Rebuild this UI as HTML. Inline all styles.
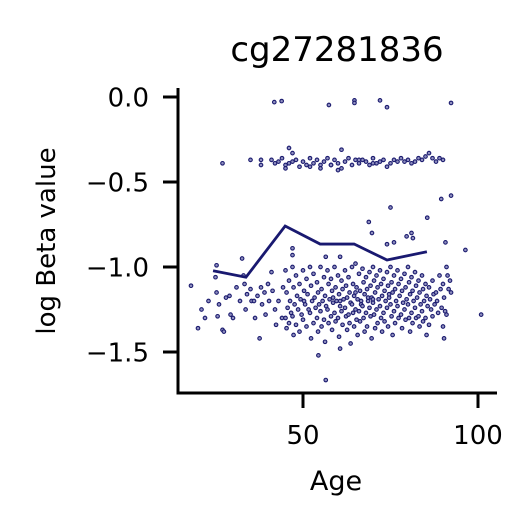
<!DOCTYPE html>
<html><head><meta charset="utf-8"><style>
html,body{margin:0;padding:0;background:#fff;}
svg{display:block;font-family:"DejaVu Sans","Liberation Sans",sans-serif;}
</style></head><body>
<svg id="chart" width="531" height="531" viewBox="0 0 531 531">
<text x="337" y="61" font-size="34" text-anchor="middle">cg27281836</text>
<g id="points"></g>
<g id="line"></g>
<g id="axes"></g>
<text x="336" y="490" font-size="27" text-anchor="middle">Age</text>
<text x="0" y="0" font-size="26" text-anchor="middle" transform="translate(55,241) rotate(-90)">log Beta value</text>
</svg>
<script>
const xTicks=[50,100];
const yTicks=[0.0,-0.5,-1.0,-1.5];
const yTickLabels=["0.0","\u22120.5","\u22121.0","\u22121.5"];
const lineAges=[24.3,33.7,44.9,54.9,64.6,74,85.4];
const lineValues=[-1.022,-1.06,-0.759,-0.865,-0.865,-0.959,-0.91];
const outlierAges=[41.8,43.9,57.4,64.7,64.7,72,74,92.3,89.5,92.3,75,68.8,85.5,69.7,81,79.6,81.4,76,74,90.7,96.4,100.9,56.5,54.4,60.6,18,20,27.4,37.6,47,47,32.6,25.3,56.5,60.6];
const outlierValues=[-0.03,-0.024,-0.047,-0.02,-0.035,-0.02,-0.06,-0.035,-0.6,-0.58,-0.65,-0.735,-0.71,-0.8,-0.8,-0.82,-0.83,-0.855,-0.866,-0.855,-0.9,-1.28,-1.665,-1.52,-1.48,-1.11,-1.36,-1.38,-1.42,-0.89,-0.93,-0.95,-0.99,-0.94,-0.94];
const bandAges=[27,35,38,38,41,42,43,44,45,45,46,47,47,48,49,50,51,52,53,54,55,55,56,57,58,59,60,60,61,62,63,64,65,66,67,68,69,70,71,72,73,74,75,76,77,78,80,81,82,83,84,85,86,87,88,89,90,46,52,58,61,66,70,79];
const bandValues=[-0.39,-0.37,-0.37,-0.4,-0.37,-0.39,-0.38,-0.36,-0.4,-0.42,-0.3,-0.38,-0.33,-0.37,-0.41,-0.38,-0.4,-0.36,-0.39,-0.37,-0.4,-0.42,-0.38,-0.36,-0.4,-0.37,-0.39,-0.43,-0.31,-0.38,-0.36,-0.4,-0.37,-0.39,-0.37,-0.38,-0.4,-0.36,-0.39,-0.38,-0.37,-0.41,-0.39,-0.37,-0.38,-0.36,-0.37,-0.39,-0.38,-0.36,-0.37,-0.35,-0.33,-0.36,-0.38,-0.36,-0.37,-0.39,-0.41,-0.4,-0.42,-0.37,-0.39,-0.38];
const clusterAges=[21,22,23,25,26,27,28,29,30,31,32,33,34,35,36,37,38,39,40,41,42,43,44,45,46,47,48,49,50,51,52,53,54,55,56,57,58,59,60,61,62,63,64,65,66,67,68,69,70,71,72,73,74,75,76,77,78,79,80,81,82,83,84,85,86,87,88,89,90,91,92];
const clusterValues=[[-1.25],[-1.3],[-1.2],[-1.06,-1.15,-1.29],[-1.22],[-1.37],[-1.18],[-1.17,-1.28],[-1.3],[-1.12],[-1.2],[-1.05,-1.1,-1.25],[-1.16],[-1.13,-1.2],[-1.2,-1.3],[-1.17],[-1.12,-1.22],[-1.15,-1.28],[-1.1,-1.2],[-1.03,-1.14],[-1.25,-1.34],[-1.2],[-1.3,-1.12],
[-1.02,-1.15,-1.24,-1.3,-1.36],[-1.08,-1.2,-1.27,-1.33],[-1.0,-1.12,-1.22,-1.29,-1.4],[-1.05,-1.17,-1.25,-1.34],[-1.1,-1.19,-1.28,-1.38],[-1.02,-1.14,-1.22,-1.31,-1.2],[-1.07,-1.16,-1.25,-1.35],[-1.0,-1.11,-1.2,-1.27,-1.42],[-1.04,-1.18,-1.24,-1.33],[-1.09,-1.15,-1.22,-1.3,-1.38],[-1.0,-1.13,-1.2,-1.26,-1.35],[-1.06,-1.17,-1.23,-1.31,-1.44],[-1.02,-1.1,-1.19,-1.25,-1.33],[-1.07,-1.14,-1.21,-1.29,-1.37,-1.18],[-1.0,-1.12,-1.2,-1.27,-1.32],[-1.05,-1.16,-1.23,-1.3,-1.41,-1.2],[-1.08,-1.13,-1.19,-1.26,-1.34],[-1.02,-1.11,-1.18,-1.24,-1.29,-1.37],[-1.06,-1.15,-1.21,-1.28,-1.33,-1.45],[-1.0,-1.1,-1.17,-1.22,-1.27,-1.35],[-0.98,-1.12,-1.19,-1.25,-1.31,-1.4,-1.15],[-1.04,-1.14,-1.2,-1.26,-1.32,-1.22],[-1.01,-1.09,-1.16,-1.23,-1.3,-1.38],[-1.06,-1.13,-1.2,-1.27,-1.35,-1.18],[-1.03,-1.11,-1.18,-1.24,-1.29,-1.42],[-1.0,-1.08,-1.15,-1.21,-1.28,-1.36,-1.19],[-1.05,-1.12,-1.19,-1.25,-1.33],[-1.02,-1.1,-1.17,-1.23,-1.3,-1.38],[-1.07,-1.14,-1.2,-1.27,-1.32],[-1.03,-1.11,-1.18,-1.24,-1.35,-1.16],[-1.0,-1.09,-1.15,-1.22,-1.29,-1.4],[-1.05,-1.13,-1.2,-1.26,-1.33],[-1.02,-1.1,-1.17,-1.23,-1.3],[-1.07,-1.14,-1.21,-1.28,-1.36],[-1.04,-1.12,-1.19,-1.25,-1.31],[-1.0,-1.09,-1.16,-1.22,-1.3,-1.38],[-1.06,-1.14,-1.2,-1.27,-1.33],[-1.03,-1.11,-1.18,-1.24,-1.3],[-1.08,-1.15,-1.22,-1.29,-1.35],[-1.05,-1.13,-1.2,-1.26,-1.32],[-1.1,-1.17,-1.23,-1.3,-1.4],[-1.12,-1.19,-1.25,-1.34],[-1.08,-1.16,-1.22,-1.29],[-1.15,-1.2,-1.27],[-1.05,-1.13,-1.24],[-1.1,-1.18,-1.26,-1.35,-1.42],[-1.0,-1.05,-1.13,-1.28],[-1.08,-1.15]];

const NS="http://www.w3.org/2000/svg";
const X0=178,X1=497,Y0=88,Y1=393;
function xs(a){return 303+(a-50)*3.5;}
function ys(v){return 97-v*170;}
const pg=document.getElementById('points');
function dot(a,v){
  const c=document.createElementNS(NS,'circle');
  c.setAttribute('cx',xs(a));c.setAttribute('cy',ys(v));c.setAttribute('r',1.8);
  c.setAttribute('fill','#9090c0');c.setAttribute('stroke','#1a1a6e');c.setAttribute('stroke-width',1.1);
  
  
  pg.appendChild(c);
}
clusterAges.forEach((a,i)=>clusterValues[i].forEach((v,j)=>dot(a+(j%3)*0.3,v)));
bandAges.forEach((a,i)=>dot(a,bandValues[i]));
outlierAges.forEach((a,i)=>dot(a,outlierValues[i]));

const lg=document.getElementById('line');
const pl=document.createElementNS(NS,'polyline');
pl.setAttribute('points',lineAges.map((a,i)=>xs(a)+','+ys(lineValues[i])).join(' '));
pl.setAttribute('fill','none');pl.setAttribute('stroke','#191970');pl.setAttribute('stroke-width',2.8);


lg.appendChild(pl);

const ag=document.getElementById('axes');
function ln(x1,y1,x2,y2,name){
  const l=document.createElementNS(NS,'line');
  l.setAttribute('x1',x1);l.setAttribute('y1',y1);l.setAttribute('x2',x2);l.setAttribute('y2',y2);
  l.setAttribute('stroke','#000');l.setAttribute('stroke-width',3);
  
  
  ag.appendChild(l);
}
function tx(x,y,s,anchor,name){
  const t=document.createElementNS(NS,'text');
  t.setAttribute('x',x);t.setAttribute('y',y);t.setAttribute('font-size',26);t.setAttribute('text-anchor',anchor);
  t.textContent=s;
  
  
  ag.appendChild(t);
}
ln(X0,Y0,X0,Y1+1.5,'y-axis-line');
ln(X0-1.5,Y1,X1,Y1,'x-axis-line');
xTicks.forEach(t=>{ln(xs(t),Y1,xs(t),Y1+15,'x-tick');tx(xs(t),Y1+51,String(t),'middle','x-tick-label');});
yTicks.forEach((t,i)=>{ln(X0-15,ys(t),X0,ys(t),'y-tick');tx(X0-29,ys(t)+9.5,yTickLabels[i],'end','y-tick-label');});
</script>
</body></html>
